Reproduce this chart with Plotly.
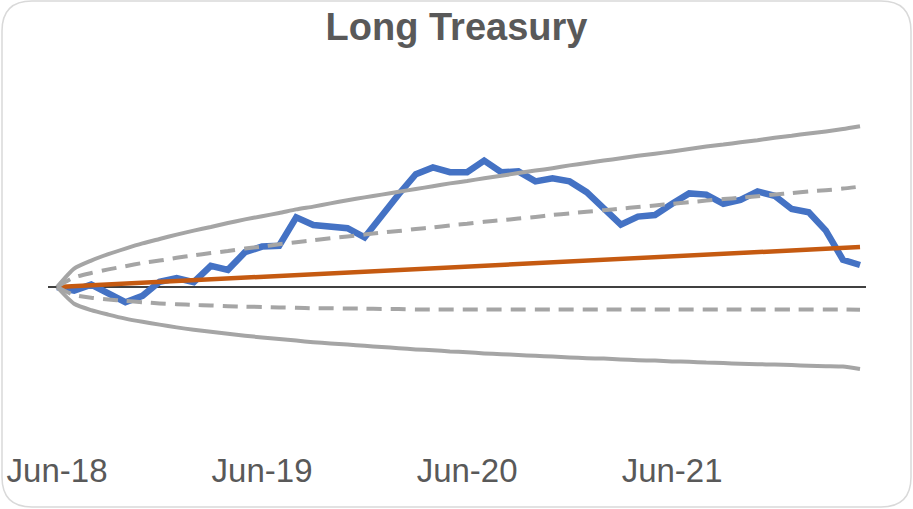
import plotly.graph_objects as go

months = ["Jun-18","Jul-18","Aug-18","Sep-18","Oct-18","Nov-18","Dec-18","Jan-19","Feb-19","Mar-19","Apr-19","May-19",
          "Jun-19","Jul-19","Aug-19","Sep-19","Oct-19","Nov-19","Dec-19","Jan-20","Feb-20","Mar-20","Apr-20","May-20",
          "Jun-20","Jul-20","Aug-20","Sep-20","Oct-20","Nov-20","Dec-20","Jan-21","Feb-21","Mar-21","Apr-21","May-21",
          "Jun-21","Jul-21","Aug-21","Sep-21","Oct-21","Nov-21","Dec-21","Jan-22","Feb-22","Mar-22","Apr-22","May-22"]

actual = [0.0, -0.9, 0.6, -1.5, -3.8, -2.2, 1.3, 2.2, 1.2, 5.3, 4.3, 8.7,
          10.1, 10.3, 17.4, 15.5, 15.1, 14.7, 12.4, 17.9, 23.2, 28.2, 29.9, 28.7,
          28.7, 31.6, 28.7, 28.9, 26.4, 27.2, 26.4, 23.7, 19.5, 15.6, 17.6, 18.0,
          20.8, 23.4, 23.1, 20.8, 21.8, 23.9, 22.8, 19.5, 18.7, 14.1, 6.8, 5.5]

expected = [0.0, 0.21, 0.43, 0.64, 0.85, 1.06, 1.28, 1.49, 1.70, 1.91, 2.13, 2.34,
            2.55, 2.77, 2.98, 3.19, 3.40, 3.62, 3.83, 4.04, 4.26, 4.47, 4.68, 4.89,
            5.11, 5.32, 5.53, 5.74, 5.96, 6.17, 6.38, 6.60, 6.81, 7.02, 7.23, 7.45,
            7.66, 7.87, 8.09, 8.30, 8.51, 8.72, 8.94, 9.15, 9.36, 9.57, 9.79, 10.0]

upper_2sd = [0.0, 4.6, 6.6, 8.2, 9.6, 10.9, 12.0, 13.1, 14.1, 15.0, 16.0, 16.9,
             17.7, 18.5, 19.4, 20.1, 20.9, 21.7, 22.4, 23.1, 23.8, 24.5, 25.2, 25.9,
             26.5, 27.2, 27.8, 28.5, 29.1, 29.7, 30.4, 31.0, 31.6, 32.2, 32.8, 33.3,
             33.9, 34.5, 35.1, 35.6, 36.2, 36.7, 37.3, 37.8, 38.4, 38.9, 39.5, 40.2]

lower_2sd = [0.0, -4.2, -5.8, -6.9, -7.9, -8.7, -9.4, -10.1, -10.7, -11.2, -11.7, -12.2,
             -12.6, -13.0, -13.4, -13.8, -14.1, -14.4, -14.7, -15.0, -15.3, -15.6, -15.8, -16.1,
             -16.3, -16.6, -16.8, -17.0, -17.2, -17.4, -17.6, -17.8, -17.9, -18.1, -18.3, -18.4,
             -18.6, -18.7, -18.9, -19.0, -19.2, -19.3, -19.4, -19.5, -19.7, -19.8, -19.9, -20.5]

upper_1sd = [0.0, 2.4, 3.5, 4.4, 5.2, 6.0, 6.6, 7.3, 7.9, 8.5, 9.0, 9.6,
             10.1, 10.7, 11.2, 11.7, 12.2, 12.6, 13.1, 13.6, 14.0, 14.5, 14.9, 15.4,
             15.8, 16.3, 16.7, 17.1, 17.5, 18.0, 18.4, 18.8, 19.2, 19.6, 20.0, 20.4,
             20.8, 21.2, 21.6, 22.0, 22.3, 22.7, 23.1, 23.5, 23.9, 24.2, 24.6, 25.1]

lower_1sd = [0.0, -2.0, -2.7, -3.1, -3.5, -3.8, -4.1, -4.3, -4.5, -4.6, -4.8, -4.9,
             -5.0, -5.1, -5.2, -5.3, -5.3, -5.4, -5.4, -5.5, -5.5, -5.6, -5.6, -5.6,
             -5.6, -5.6, -5.6, -5.6, -5.6, -5.6, -5.6, -5.6, -5.6, -5.6, -5.6, -5.6,
             -5.6, -5.6, -5.6, -5.6, -5.6, -5.6, -5.6, -5.6, -5.6, -5.6, -5.6, -5.7]

tick_months = ["Jun-18", "Jun-19", "Jun-20", "Jun-21"]

W, H = 913, 509
ML, MR, MT, MB = 48, 47, 60, 61

GRAY = "#A5A5A5"
fig = go.Figure()

fig.add_trace(go.Scatter(x=months, y=actual, mode="lines",
                         line=dict(color="#4472C4", width=6.5), name="Actual"))
fig.add_trace(go.Scatter(x=months, y=expected, mode="lines",
                         line=dict(color="#C55A11", width=4.5), name="Expected"))
for ys in (upper_2sd, lower_2sd):
    fig.add_trace(go.Scatter(x=months, y=ys, mode="lines", line_shape="spline",
                             line=dict(color=GRAY, width=4, smoothing=0.6)))
for ys in (upper_1sd, lower_1sd):
    fig.add_trace(go.Scatter(x=months, y=ys, mode="lines", line_shape="spline",
                             line=dict(color=GRAY, width=4, dash="15px,9px", smoothing=0.6)))

# rounded border (pixel -> paper conversion)
pw = W - ML - MR
ph = H - MT - MB
def px(x):
    return (x - ML) / pw
def py(y):
    return 1 - (y - MT) / ph
x0, y0, x1, y1, r = 2, 1, 911, 507, 30
path = (f"M {px(x0 + r)},{py(y0)} L {px(x1 - r)},{py(y0)} "
        f"Q {px(x1)},{py(y0)} {px(x1)},{py(y0 + r)} "
        f"L {px(x1)},{py(y1 - r)} Q {px(x1)},{py(y1)} {px(x1 - r)},{py(y1)} "
        f"L {px(x0 + r)},{py(y1)} Q {px(x0)},{py(y1)} {px(x0)},{py(y1 - r)} "
        f"L {px(x0)},{py(y0 + r)} Q {px(x0)},{py(y0)} {px(x0 + r)},{py(y0)} Z")
fig.add_shape(type="path", path=path, xref="paper", yref="paper",
              line=dict(color="#D9D9D9", width=1.5), layer="below")

fig.update_layout(
    width=W, height=H,
    margin=dict(l=ML, r=MR, t=MT, b=MB, autoexpand=False),
    paper_bgcolor="white", plot_bgcolor="white",
    showlegend=False,
    font=dict(family="Liberation Sans, Arial, sans-serif", color="#595959"),
    title=dict(text="<b>Long Treasury</b>", x=0.5, xanchor="center",
               y=1 - 27 / H, yanchor="middle", yref="container",
               font=dict(size=38, color="#595959", family="Liberation Sans, Arial, sans-serif")),
    xaxis=dict(type="category", categoryorder="array", categoryarray=months,
               range=[-0.53, 47.35], tickmode="array", tickvals=tick_months, ticktext=tick_months,
               showgrid=False, showline=False, zeroline=False, ticks="", automargin=False,
               tickfont=dict(size=33, color="#595959")),
    yaxis=dict(range=[-40.25, 56.75], showgrid=False, showticklabels=False, ticks="",
               automargin=False,
               zeroline=True, zerolinecolor="#404040", zerolinewidth=2, showline=False),
)

fig.write_html("out.html", config={"displayModeBar": False},
               post_script="document.body.style.margin='0';document.body.style.overflow='hidden';")
